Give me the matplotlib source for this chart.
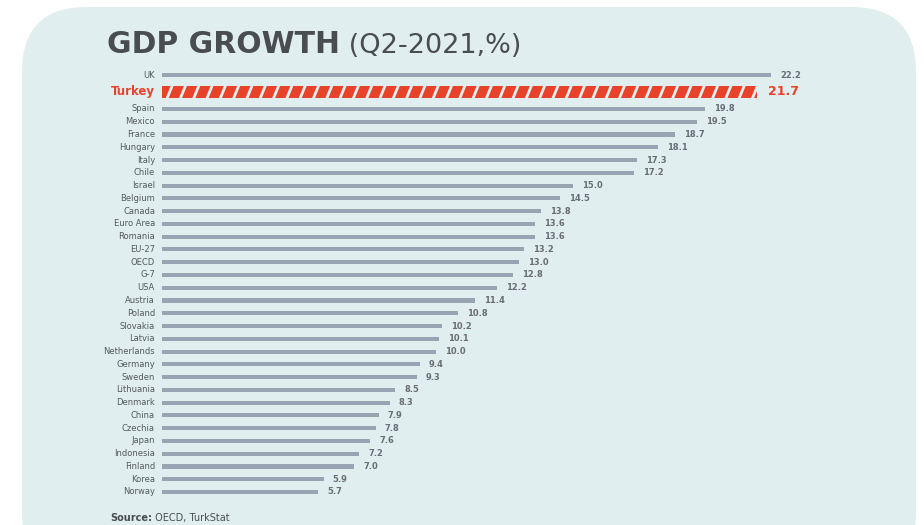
import matplotlib.pyplot as plt
from matplotlib.patches import FancyBboxPatch
import numpy as np

# data
countries = ['UK', 'Turkey', 'Spain', 'Mexico', 'France', 'Hungary', 'Italy', 'Chile',
             'Israel', 'Belgium', 'Canada', 'Euro Area', 'Romania', 'EU-27', 'OECD', 'G-7',
             'USA', 'Austria', 'Poland', 'Slovakia', 'Latvia', 'Netherlands', 'Germany',
             'Sweden', 'Lithuania', 'Denmark', 'China', 'Czechia', 'Japan', 'Indonesia',
             'Finland', 'Korea', 'Norway']
growth = [22.2, 21.7, 19.8, 19.5, 18.7, 18.1, 17.3, 17.2, 15.0, 14.5, 13.8, 13.6, 13.6,
          13.2, 13.0, 12.8, 12.2, 11.4, 10.8, 10.2, 10.1, 10.0, 9.4, 9.3, 8.5, 8.3, 7.9,
          7.8, 7.6, 7.2, 7.0, 5.9, 5.7]
highlight = 'Turkey'

bg = '#e0eef0'
grey_bar = '#98a4b3'
red = '#e8432a'
txt = '#55595d'

W, H = 924, 525
fig = plt.figure(figsize=(W / 100, H / 100), dpi=100)
fig.patch.set_facecolor('white')

# rounded panel
panel = FancyBboxPatch((22 / W, -0.1), (916 - 22) / W, (H - 7) / H + 0.1,
                       boxstyle='round,pad=0,rounding_size=0.07',
                       transform=fig.transFigure, facecolor=bg, edgecolor='none',
                       mutation_aspect=W / H, zorder=-5)
fig.patches.append(panel)

# rows, with a little extra room around the highlighted one
hi = countries.index(highlight)
idx = np.arange(len(countries))
ypos = idx + 0.33 * (idx >= hi) + 0.33 * (idx > hi)

# axis geometry (pixels)
x0_px, x1_px = 162, 916
px_per_unit = 27.43
top_px, bot_px = 75, 492
row_px = (bot_px - top_px) / ypos[-1]

ax = fig.add_axes([x0_px / W, 0, (x1_px - x0_px) / W, 1])
ax.set_xlim(0, (x1_px - x0_px) / px_per_unit)
ax.set_ylim(ypos[-1] + (H - bot_px) / row_px, -top_px / row_px)
ax.axis('off')

heights = [1.0 if c == highlight else 0.32 for c in countries]
colors = [red if c == highlight else grey_bar for c in countries]
bars = ax.barh(ypos, growth, height=heights, color=colors, zorder=2)

# white diagonal stripes on the highlighted bar
hb = bars[hi]
yc = ypos[hi]
hh = heights[hi] / 2
for xs in np.arange(-0.3, growth[hi] + 0.5, 0.485):
    ln, = ax.plot([xs, xs + 0.19], [yc + hh, yc - hh], color=bg, lw=2.0,
                  solid_capstyle='butt', zorder=3)
    ln.set_clip_path(hb)

# labels
for c, v, y in zip(countries, growth, ypos):
    if c == highlight:
        ax.text(-7 / px_per_unit, y, c, ha='right', va='center', fontsize=8.5,
                fontweight='bold', color=red)
        ax.text(v + 11 / px_per_unit, y, f'{v:.1f}', ha='left', va='center',
                fontsize=9, fontweight='bold', color=red)
    else:
        ax.text(-7 / px_per_unit, y, c, ha='right', va='center', fontsize=6,
                color=txt)
        ax.text(v + 9 / px_per_unit, y, f'{v:.1f}', ha='left', va='center',
                fontsize=6, fontweight='bold', color='#6a6e72')

# title
t1 = fig.text(107 / W, 1 - 53 / H, 'GDP GROWTH', fontsize=21.5, fontweight='bold',
              color='#4a4d50', va='baseline')
ax.annotate(' (Q2-2021,%)', xy=(1, 0), xycoords=t1, fontsize=19.5, color='#4a4d50',
            va='bottom', annotation_clip=False)

# source
s1 = fig.text(110 / W, 1 - 521 / H, 'Source:', fontsize=7, fontweight='bold',
              color='#4a4d50', va='baseline')
ax.annotate(' OECD, TurkStat', xy=(1, 0), xycoords=s1, fontsize=7, color='#4a4d50',
            va='bottom', annotation_clip=False)

plt.savefig('out.png', dpi=100, facecolor=fig.get_facecolor())
